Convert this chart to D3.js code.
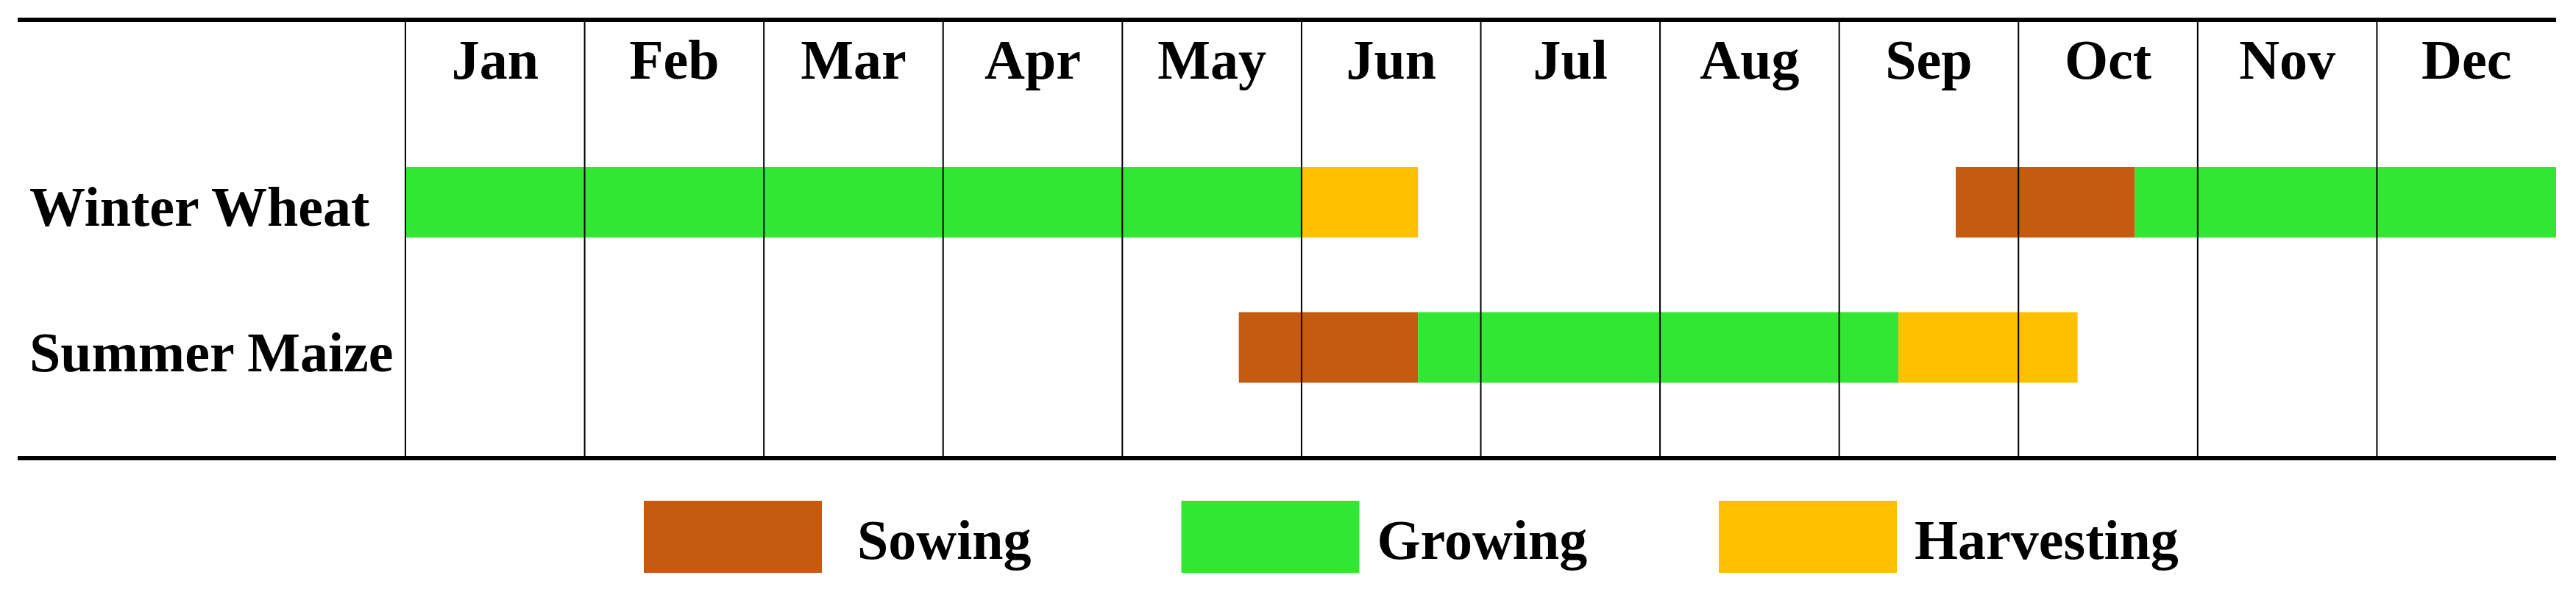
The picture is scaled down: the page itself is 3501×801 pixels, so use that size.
<!DOCTYPE html>
<html><head><meta charset="utf-8">
<script src="https://cdn.jsdelivr.net/npm/d3@7"></script>
<style>html,body{margin:0;padding:0;background:#fff;}svg{display:block;}</style>
</head><body>
<script>
const months = ["Jan","Feb","Mar","Apr","May","Jun","Jul","Aug","Sep","Oct","Nov","Dec"];
const crops = ["Winter Wheat","Summer Maize"];
const phases = ["Sowing","Growing","Harvesting"];
const phaseColors = ["#C55A11","#33E633","#FFC000"];
// segments: phase, start month, end month (0 = start of Jan, 12 = end of Dec)
const wheatSegments = [
  ["Growing", 0, 5],
  ["Harvesting", 5, 5.65],
  ["Sowing", 8.65, 9.65],
  ["Growing", 9.65, 12]
];
const maizeSegments = [
  ["Sowing", 4.65, 5.65],
  ["Growing", 5.65, 8.33],
  ["Harvesting", 8.33, 9.33]
];

const W = 3501, H = 801;
const svg = d3.select("body").append("svg").attr("width", W).attr("height", H);
const font = "'Liberation Serif','Times New Roman',serif";

const x = d3.scaleLinear().domain([0, 12]).range([551, 3474]);
const y = d3.scaleBand().domain(crops).range([227, 520.5]).paddingInner(0.514).paddingOuter(0);
const color = d3.scaleOrdinal().domain(phases).range(phaseColors);

const segs = [];
wheatSegments.forEach(s => segs.push({crop: crops[0], phase: s[0], a: s[1], b: s[2]}));
maizeSegments.forEach(s => segs.push({crop: crops[1], phase: s[0], a: s[1], b: s[2]}));

const topY = 27, botY = 623;

// bars
svg.append("g").selectAll("rect").data(segs).join("rect")
  .attr("x", d => x(d.a)).attr("width", d => x(d.b) - x(d.a))
  .attr("y", d => y(d.crop)).attr("height", y.bandwidth())
  .attr("fill", d => color(d.phase));

// vertical grid lines at month boundaries
svg.append("g").selectAll("line").data(d3.range(0, 12)).join("line")
  .attr("x1", d => x(d)).attr("x2", d => x(d))
  .attr("y1", topY).attr("y2", botY)
  .attr("stroke", "#000").attr("stroke-width", 2);

// top and bottom rules
[topY, botY].forEach(yy => svg.append("line")
  .attr("x1", 24).attr("x2", x(12)).attr("y1", yy).attr("y2", yy)
  .attr("stroke", "#000").attr("stroke-width", 6));

// month labels
svg.append("g").selectAll("text").data(months).join("text")
  .attr("x", (d, i) => x(i + 0.5)).attr("y", 107)
  .attr("text-anchor", "middle")
  .attr("font-family", font).attr("font-weight", "bold").attr("font-size", 76)
  .attr("fill", "#000").text(d => d);

// crop labels
svg.append("g").selectAll("text").data(crops).join("text")
  .attr("x", 40).attr("y", d => y(d) + y.bandwidth() / 2 + 32)
  .attr("font-family", font).attr("font-weight", "bold").attr("font-size", 76)
  .attr("fill", "#000").text(d => d);

// legend
const lx = d3.scalePoint().domain(phases).range([875, 2336]);
const lg = svg.append("g").selectAll("g").data(phases).join("g")
  .attr("transform", d => `translate(${lx(d)},681)`);
lg.append("rect").attr("width", 242).attr("height", 98).attr("fill", d => color(d));
lg.append("text").attr("x", (d, i) => i === 0 ? 290 : 266).attr("y", 79)
  .attr("font-family", font).attr("font-weight", "bold").attr("font-size", 76)
  .attr("fill", "#000").text(d => d);
</script>
</body></html>
